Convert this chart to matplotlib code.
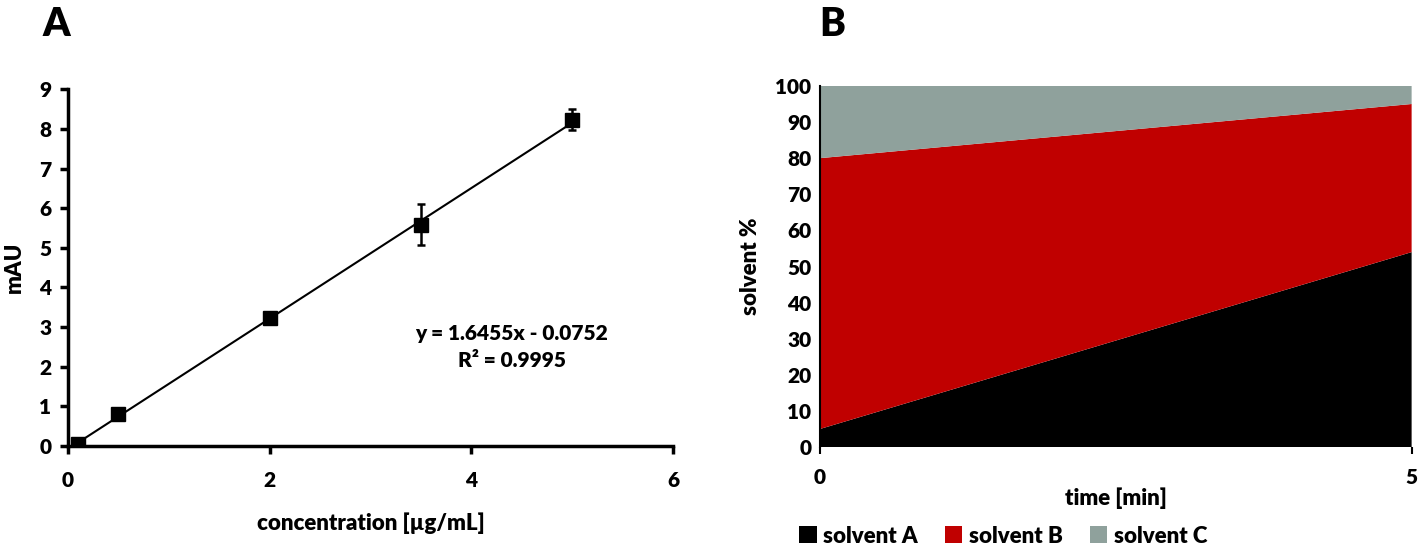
import numpy as np
import matplotlib.pyplot as plt

plt.rcParams['font.family'] = ['Lato', 'DejaVu Sans']
plt.rcParams['font.weight'] = 'heavy'

# panel A - calibration
conc = [0.1, 0.5, 2.0, 3.5, 5.0]
mau = [0.05, 0.80, 3.22, 5.58, 8.23]
err = [0.03, 0.08, 0.10, 0.52, 0.27]
slope = 1.6455
icept = -0.0752

# panel B - gradient
t = [0, 5]
solv_a = [5, 54]
solv_b = [75, 41]
solv_c = [20, 5]
names = ['solvent A', 'solvent B', 'solvent C']
cols = ['#000000', '#c00000', '#8fa19c']

fig = plt.figure(figsize=(14.18, 5.44), dpi=100)

ax1 = fig.add_axes([0.048, 0.180, 0.4266, 0.656])
xx = np.array([conc[0], conc[-1]])
ax1.plot(xx, slope * xx + icept, color='black', lw=1.5, zorder=2)
ax1.errorbar(conc, mau, yerr=err, fmt='s', color='black', ms=10, capsize=3,
             elinewidth=1.8, capthick=1.8, zorder=3)
ax1.set_xlim(0, 6)
ax1.set_ylim(0, 9)
ax1.set_xticks([0, 2, 4, 6])
ax1.set_yticks(range(10))
for s in ['top', 'right']:
    ax1.spines[s].set_visible(False)
for s in ['left', 'bottom']:
    ax1.spines[s].set_linewidth(2.5)
ax1.tick_params(width=2.5, length=6, labelsize=15, pad=6)
ax1.tick_params(axis='x', pad=12)
ax1.set_xlabel('concentration [µg/mL]', fontsize=16, fontweight='heavy', labelpad=16)
ax1.set_ylabel('mAU', fontsize=16, fontweight='heavy', labelpad=10)
ax1.text(4.4, 2.5, 'y = 1.6455x - 0.0752\nR² = 0.9995', ha='center', va='center',
         fontsize=15, fontweight='heavy', linespacing=1.5)
fig.text(0.030, 0.955, 'A', fontsize=28, fontweight='heavy', va='center')

ax2 = fig.add_axes([0.578, 0.178, 0.4175, 0.664])
ax2.stackplot(t, solv_a, solv_b, solv_c, colors=cols, labels=names, lw=0)
ax2.set_xlim(0, 5)
ax2.set_ylim(0, 100)
ax2.set_xticks([0, 5])
ax2.set_yticks(range(0, 101, 10))
for s in ['top', 'right', 'bottom']:
    ax2.spines[s].set_visible(False)
ax2.spines['left'].set_linewidth(1.5)
ax2.tick_params(axis='y', length=0, labelsize=15, pad=6)
ax2.tick_params(axis='x', length=5, width=1.5, labelsize=15, pad=10)
ax2.set_xlabel('time [min]', fontsize=16, fontweight='heavy', labelpad=0)
ax2.set_ylabel('solvent %', fontsize=16, fontweight='heavy', labelpad=10)
ax2.legend(loc='lower center', bbox_to_anchor=(0.31, -0.275), ncol=3, frameon=False,
           fontsize=16, handlelength=0.8, handleheight=0.8, columnspacing=1.2,
           handletextpad=0.3, borderpad=0, borderaxespad=0)
fig.text(0.578, 0.955, 'B', fontsize=28, fontweight='heavy', va='center')

fig.savefig('out.png', dpi=100)
